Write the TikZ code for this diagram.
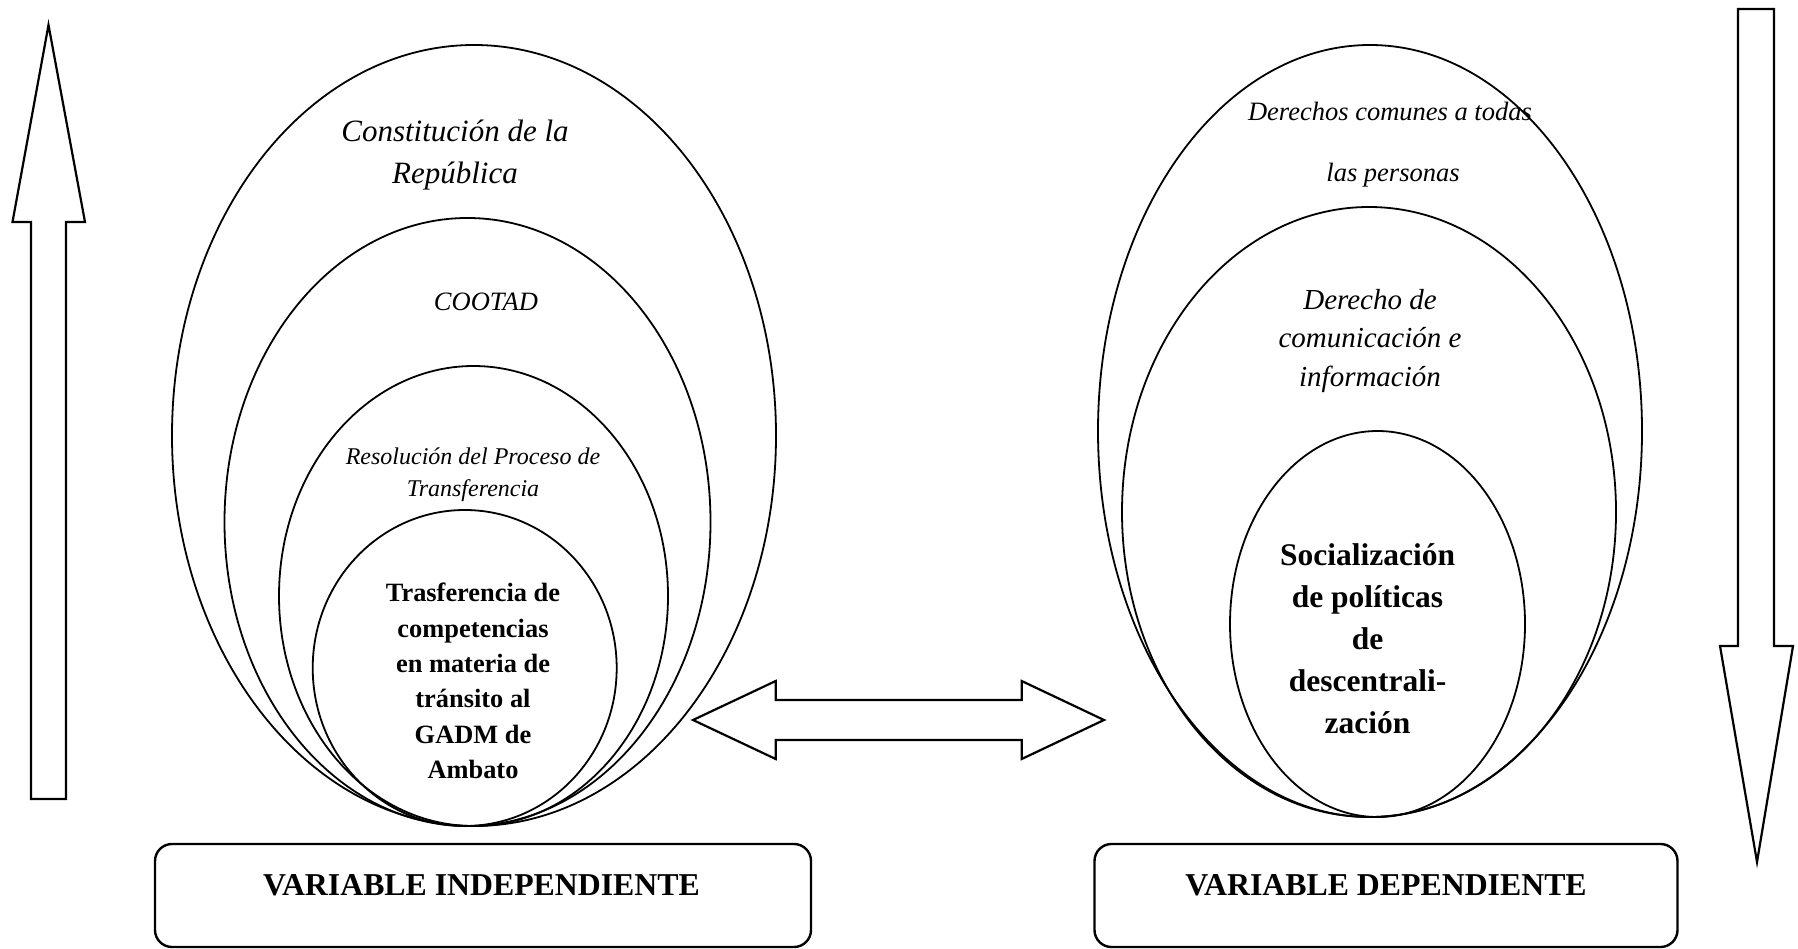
\documentclass[tikz,border=0pt]{standalone}
\usepackage{fontspec}
\setmainfont{Liberation Serif}
\usetikzlibrary{shapes.geometric}
\begin{document}
\begin{tikzpicture}[x=1pt,y=-1pt,
  ell/.style={draw, ellipse, inner sep=0pt, line width=1.8pt},
  blockarrow/.style={draw, line width=2.2pt, line join=miter},
  varbox/.style={draw, rounded corners=17pt, line width=2.4pt, inner sep=0pt},
  txt/.style={align=center, inner sep=0pt}]
\useasboundingbox (0,0) rectangle (1798,949);
% left group of ellipses
\node[ell, minimum width=604pt, minimum height=781pt] (e1) at (474,435.5) {};
\node[ell, minimum width=486pt, minimum height=608pt] (e2) at (467.5,522) {};
\node[ell, minimum width=389pt, minimum height=460pt] (e3) at (473.5,596) {};
\node[ell, minimum width=304pt, minimum height=316pt] (e4) at (464.7,668) {};
% right group of ellipses
\node[ell, minimum width=544pt, minimum height=772pt] (eA) at (1370,431) {};
\node[ell, minimum width=494pt, minimum height=610pt] (eB) at (1369,512) {};
\node[ell, minimum width=295pt, minimum height=386pt] (eC) at (1377.5,624) {};
% texts left
\node[txt, font={\fontsize{31}{42.5}\selectfont\itshape}] (t1) at (455,155) {Constitución de la\\República};
\node[txt, font={\fontsize{26.5}{32}\selectfont\itshape}] (t2) at (486,302) {COOTAD};
\node[txt, font={\fontsize{24}{32}\selectfont\itshape}] (t3) at (473,475) {Resolución del Proceso de\\Transferencia};
\node[txt, font={\fontsize{26.4}{35.3}\selectfont\bfseries}] (t4) at (473,681) {Trasferencia de\\competencias\\en materia de\\tránsito al\\GADM de\\Ambato};
% texts right
\node[txt, font={\fontsize{26.5}{32}\selectfont\itshape}] (t5) at (1390,111) {Derechos comunes a todas};
\node[txt, font={\fontsize{26.5}{32}\selectfont\itshape}] (t6) at (1393,175) {las personas};
\node[txt, font={\fontsize{29}{38.5}\selectfont\itshape}] (t7) at (1370,341) {Derecho de\\comunicación e\\información};
\node[txt, font={\fontsize{31.5}{42}\selectfont\bfseries}] (t8) at (1367.5,639) {Socialización\\de políticas\\de\\descentrali-\\zación};
% variable boxes
\node[varbox, minimum width=656pt, minimum height=103pt] (b1) at (483,895.5) {};
\node[txt, font={\fontsize{31.8}{38}\selectfont\bfseries}] (v1) at (481.5,885) {VARIABLE INDEPENDIENTE};
\node[varbox, minimum width=583pt, minimum height=103pt] (b2) at (1386,895.5) {};
\node[txt, font={\fontsize{31.8}{38}\selectfont\bfseries}] (v2) at (1386,885) {VARIABLE DEPENDIENTE};
% block arrows
\draw[blockarrow] (48.5,25) -- (85,222) -- (66,222) -- (66,799) -- (31,799) -- (31,222) -- (12.5,222) -- cycle;
\draw[blockarrow] (1738,9) -- (1774,9) -- (1774,646) -- (1793,646) -- (1757,862) -- (1720,646) -- (1738,646) -- cycle;
\draw[blockarrow] (693,720) -- (775.7,681) -- (775.7,700) -- (1021.7,700) -- (1021.7,681) -- (1104,720) -- (1021.7,759) -- (1021.7,740) -- (775.7,740) -- (775.7,759) -- cycle;
\end{tikzpicture}
\end{document}
